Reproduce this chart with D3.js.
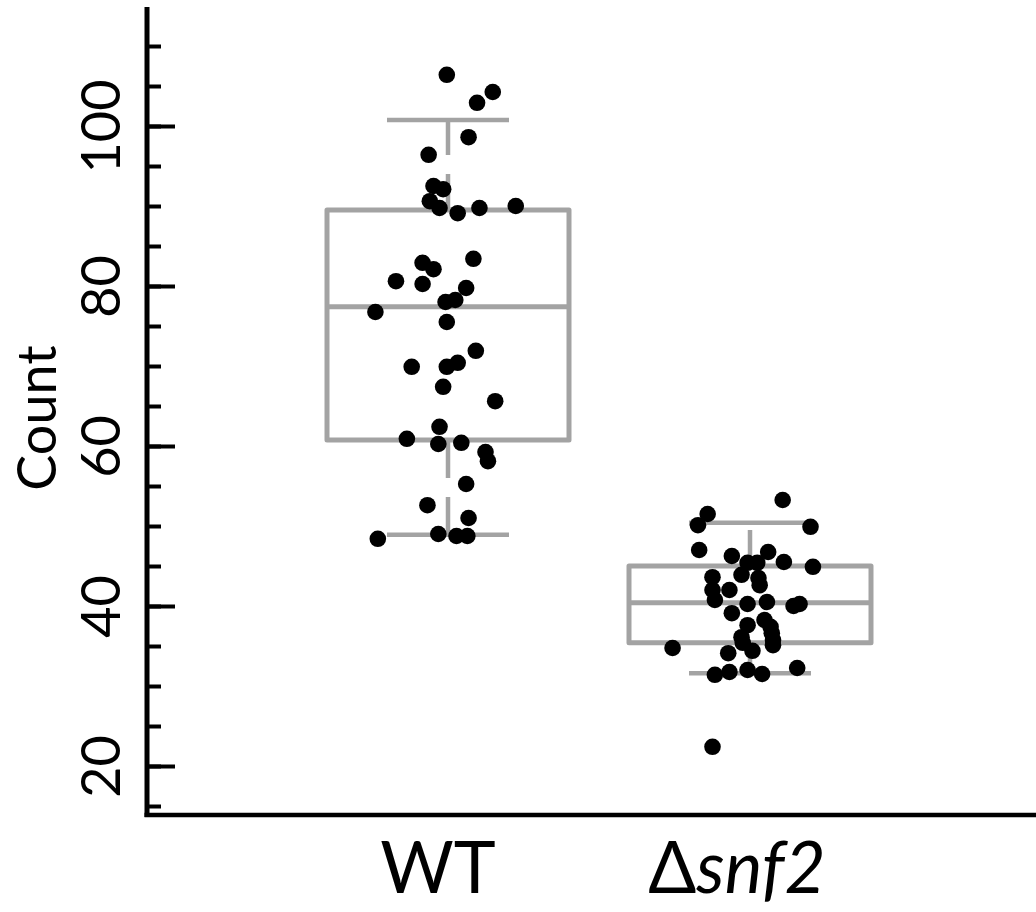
<!DOCTYPE html>
<html>
<head>
<meta charset="utf-8">
<script src="https://cdn.jsdelivr.net/npm/d3@7"></script>
<style>
  html, body { margin: 0; padding: 0; background: #fff; }
  svg { display: block; }
</style>
</head>
<body>
<svg id="chart" width="1036" height="912"></svg>
<script>
// ---------------- data ----------------
const categories = ["WT", "Δsnf2"];

// box stats: [lower whisker, Q1, median, Q3, upper whisker]
const statsWT   = [48.9, 60.75, 77.4, 89.5, 100.75];
const statsSnf2 = [31.6, 35.4, 40.4, 45.0, 50.4];

// points: [jitter (fraction of box half-width), value]
const pointsWT = [
  [-0.01,106.4],[0.37,104.25],[0.24,102.9],[0.17,98.6],[-0.16,96.4],
  [-0.12,92.5],[-0.04,92.1],[-0.15,90.6],[-0.07,89.75],[0.08,89.1],
  [0.26,89.75],[0.56,90.0],[-0.21,82.9],[-0.12,82.1],[0.21,83.4],
  [-0.43,80.6],[-0.21,80.25],[0.15,79.75],[-0.02,78.0],[0.06,78.25],
  [-0.60,76.75],[-0.01,75.5],[0.23,71.9],[-0.30,69.9],[-0.01,69.9],
  [0.08,70.4],[-0.04,67.4],[0.39,65.6],[-0.07,62.4],[-0.34,60.9],
  [-0.08,60.25],[0.11,60.4],[0.31,59.25],[0.33,58.1],[0.15,55.25],
  [-0.17,52.6],[0.17,51.0],[-0.58,48.4],[-0.08,49.0],[0.07,48.75],
  [0.16,48.75]
];
const pointsSnf2 = [
  [0.27,53.25],[-0.35,51.5],[-0.43,50.1],[0.50,49.9],[-0.42,47.0],
  [-0.15,46.25],[0.15,46.75],[-0.02,45.4],[0.06,45.4],[0.28,45.5],
  [0.52,44.9],[-0.07,43.9],[-0.31,43.6],[0.07,43.5],[0.08,42.6],
  [-0.31,42.0],[-0.17,42.0],[-0.29,40.75],[-0.02,40.25],[0.14,40.5],
  [0.36,40.0],[0.41,40.25],[-0.15,39.1],[0.12,38.25],[-0.02,37.6],
  [0.17,37.4],[0.18,36.6],[-0.07,36.1],[0.19,35.75],[-0.06,35.4],
  [0.19,35.1],[-0.64,34.75],[0.02,34.4],[-0.18,34.1],[-0.29,31.4],
  [-0.17,31.75],[-0.02,32.0],[0.10,31.5],[0.39,32.25],[-0.31,22.4]
];

const minorTicks = d3.range(15, 115, 5);
const majorTicks = [20, 40, 60, 80, 100];

// ---------------- layout ----------------
const svg = d3.select("#chart");
const axisX = 147, axisBottom = 815, axisTop = 7, rightEdge = 1036;
const boxHalf = 121, capHalf = 61;
const gray = "#a3a3a3";
const font = "Lato, 'Open Sans', sans-serif";

const y = d3.scaleLinear().domain([13.875, 114.875]).range([axisBottom, axisTop]);
const x = d3.scalePoint().domain(categories).range([448, 750]);
const jit = d3.scaleLinear().domain([-1, 1]).range([-boxHalf, boxHalf]);

const groups = [
  { cat: categories[0], stats: statsWT, pts: pointsWT },
  { cat: categories[1], stats: statsSnf2, pts: pointsSnf2 }
];

// ---------------- boxes ----------------
const g = svg.append("g");
groups.forEach(d => {
  const cx = x(d.cat);
  const [lo, q1, med, q3, hi] = d.stats;
  g.append("line").attr("x1", cx).attr("x2", cx)
    .attr("y1", y(q3)).attr("y2", y(hi))
    .attr("stroke", gray).attr("stroke-width", 4.5).attr("stroke-dasharray", "36,19");
  g.append("line").attr("x1", cx).attr("x2", cx)
    .attr("y1", y(q1)).attr("y2", y(lo))
    .attr("stroke", gray).attr("stroke-width", 4.5).attr("stroke-dasharray", "38,19");
  [lo, hi].forEach(v => {
    g.append("line").attr("x1", cx - capHalf).attr("x2", cx + capHalf)
      .attr("y1", y(v)).attr("y2", y(v))
      .attr("stroke", gray).attr("stroke-width", 4.5);
  });
  g.append("rect").attr("x", cx - boxHalf).attr("y", y(q3))
    .attr("width", 2 * boxHalf).attr("height", y(q1) - y(q3))
    .attr("fill", "none").attr("stroke", gray).attr("stroke-width", 5)
    .attr("stroke-linejoin", "round");
  g.append("line").attr("x1", cx - boxHalf).attr("x2", cx + boxHalf)
    .attr("y1", y(med)).attr("y2", y(med))
    .attr("stroke", gray).attr("stroke-width", 5);
});

// ---------------- points ----------------
groups.forEach(d => {
  const cx = x(d.cat);
  g.selectAll(null).data(d.pts).enter().append("circle")
    .attr("cx", p => cx + jit(p[0]))
    .attr("cy", p => y(p[1]))
    .attr("r", 8.3)
    .attr("fill", "#000");
});

// ---------------- axes ----------------
const axG = svg.append("g").attr("transform", `translate(${axisX},0)`);
axG.append("g").call(d3.axisRight(y).tickValues(minorTicks).tickSize(14).tickFormat(""))
  .call(s => s.select(".domain").remove())
  .call(s => s.selectAll(".tick line").attr("stroke", "#000").attr("stroke-width", 4));
const major = axG.append("g").call(d3.axisLeft(y).tickValues(majorTicks).tickSizeInner(-28).tickSizeOuter(0).tickPadding(27))
  .call(s => s.select(".domain").remove())
  .call(s => s.selectAll(".tick line").attr("stroke", "#000").attr("stroke-width", 4));
major.selectAll(".tick text")
  .attr("transform", "rotate(-90)")
  .attr("x", 0).attr("y", -27).attr("dy", 0)
  .attr("text-anchor", "middle")
  .attr("fill", "#000")
  .style("font-family", font).style("font-size", "54px");

svg.append("line").attr("x1", axisX).attr("x2", axisX)
  .attr("y1", axisTop).attr("y2", axisBottom + 2)
  .attr("stroke", "#000").attr("stroke-width", 5);
svg.append("line").attr("x1", axisX - 2.5).attr("x2", rightEdge)
  .attr("y1", axisBottom).attr("y2", axisBottom)
  .attr("stroke", "#000").attr("stroke-width", 4.5);

svg.append("text")
  .attr("transform", `translate(56,${418}) rotate(-90)`)
  .attr("text-anchor", "middle")
  .style("font-family", font).style("font-size", "54px")
  .text("Count");

const xl = svg.append("g");
xl.append("text").attr("x", x(categories[0]) - 10).attr("y", 893)
  .attr("text-anchor", "middle")
  .style("font-family", font).style("font-size", "71px")
  .text(categories[0]);
const t2 = xl.append("text").attr("x", x(categories[1]) - 13).attr("y", 893)
  .attr("text-anchor", "middle")
  .style("font-family", font).style("font-size", "71px");
t2.append("tspan").text(categories[1].slice(0, 1));
t2.append("tspan").style("font-style", "italic").text(categories[1].slice(1));
</script>
</body>
</html>
